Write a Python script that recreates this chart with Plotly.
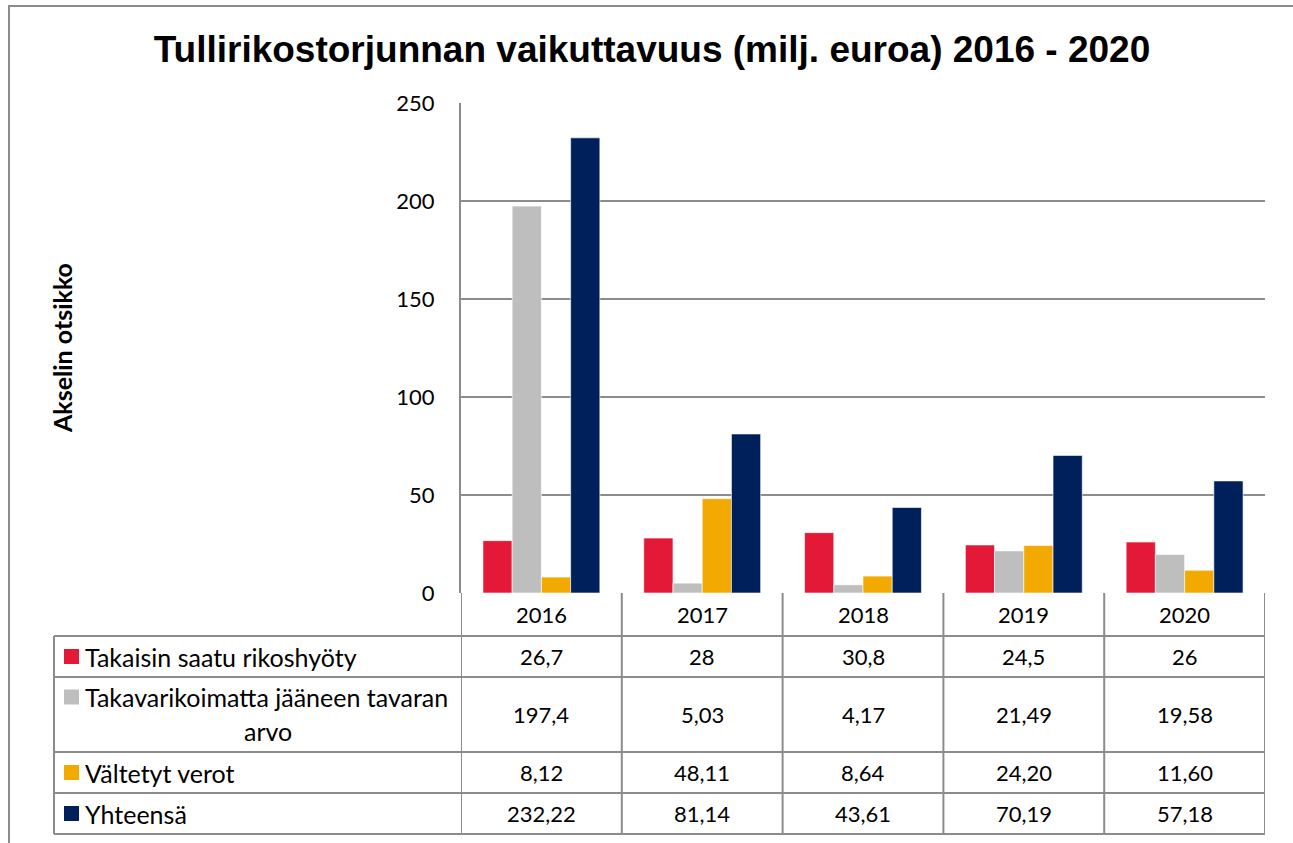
import plotly.graph_objects as go

# ---------------- data ----------------
years = ["2016", "2017", "2018", "2019", "2020"]
series_names = [
    "Takaisin saatu rikoshyöty",
    "Takavarikoimatta jääneen tavaran arvo",
    "Vältetyt verot",
    "Yhteensä",
]
labels_rikoshyoty = ["26,7", "28", "30,8", "24,5", "26"]
labels_tavara = ["197,4", "5,03", "4,17", "21,49", "19,58"]
labels_verot = ["8,12", "48,11", "8,64", "24,20", "11,60"]
labels_yhteensa = ["232,22", "81,14", "43,61", "70,19", "57,18"]
series_labels = [labels_rikoshyoty, labels_tavara, labels_verot, labels_yhteensa]
series_values = [[float(s.replace(",", ".")) for s in lab] for lab in series_labels]
colors = ["#E31937", "#BEBEBE", "#F2A900", "#00205B"]
y_ticks = [0, 50, 100, 150, 200, 250]

title_text = "Tullirikostorjunnan vaikuttavuus (milj. euroa) 2016 - 2020"
y_title = "Akselin otsikko"

# ---------------- layout helpers ----------------
W, H = 1293, 843
def PX(x):
    return x / W
def PY(y):
    return 1 - y / H

plot_left, plot_right, plot_top, plot_bottom = 461, 1265, 103, 593
row_lines = [636, 677, 752, 793, 834]   # bottoms of header, rows 1-4
table_left = 54
grid_col = "#8C8C8C"
body_font = "Lato, Carlito, Calibri, sans-serif"
num_size = 22
lab_size = 25

xs = list(range(len(years)))

fig = go.Figure()
for name, vals, col in zip(series_names, series_values, colors):
    fig.add_trace(go.Bar(
        x=xs, y=vals, name=name,
        marker=dict(color=col, line=dict(color="white", width=0.6)),
        hoverinfo="y+name",
    ))

shapes = []
annotations = []

# outer chart border
shapes.append(dict(type="rect", xref="paper", yref="paper",
                   x0=PX(9), x1=PX(1320), y0=PY(6), y1=PY(870),
                   line=dict(color="#8C8C8C", width=2)))

# table vertical lines (category boundaries)
for i in range(len(years) + 1):
    shapes.append(dict(type="line", xref="x", yref="paper",
                       x0=i - 0.5, x1=i - 0.5, y0=PY(plot_bottom), y1=PY(row_lines[-1]),
                       line=dict(color=grid_col, width=2)))
# table left border
shapes.append(dict(type="line", xref="paper", yref="paper",
                   x0=PX(table_left), x1=PX(table_left), y0=PY(row_lines[0]), y1=PY(row_lines[-1]),
                   line=dict(color=grid_col, width=2)))
# table horizontal lines
for yl in row_lines:
    shapes.append(dict(type="line", xref="paper", yref="paper",
                       x0=PX(table_left), x1=PX(plot_right), y0=PY(yl), y1=PY(yl),
                       line=dict(color=grid_col, width=2)))

# header row: years
hdr_c = (plot_bottom + row_lines[0]) / 2
for i, yr in enumerate(years):
    annotations.append(dict(x=i, y=PY(hdr_c), xref="x", yref="paper", text=yr,
                            xanchor="center", yanchor="middle", showarrow=False,
                            font=dict(family=body_font, size=num_size, color="black")))

# data rows
row_tops = row_lines[:-1]
row_bots = row_lines[1:]
for r, (name, labs, col) in enumerate(zip(series_names, series_labels, colors)):
    cy = (row_tops[r] + row_bots[r]) / 2
    for i, s in enumerate(labs):
        annotations.append(dict(x=i, y=PY(cy), xref="x", yref="paper", text=s,
                                xanchor="center", yanchor="middle", showarrow=False,
                                font=dict(family=body_font, size=num_size, color="black")))
    if r == 1:
        first, last = name.rsplit(" ", 1)
        ly = 697
        annotations.append(dict(x=PX(83), y=PY(ly), xref="paper", yref="paper", text=first,
                                xanchor="left", yanchor="middle", showarrow=False,
                                font=dict(family=body_font, size=lab_size, color="black")))
        annotations.append(dict(x=PX(268), y=PY(731), xref="paper", yref="paper", text=last,
                                xanchor="center", yanchor="middle", showarrow=False,
                                font=dict(family=body_font, size=lab_size, color="black")))
    else:
        ly = cy
        annotations.append(dict(x=PX(83), y=PY(ly), xref="paper", yref="paper", text=name,
                                xanchor="left", yanchor="middle", showarrow=False,
                                font=dict(family=body_font, size=lab_size, color="black")))
    shapes.append(dict(type="rect", xref="paper", yref="paper",
                       x0=PX(64), x1=PX(79), y0=PY(ly - 7.5), y1=PY(ly + 7.5),
                       line=dict(width=0), fillcolor=col))

# y-axis title
annotations.append(dict(x=PX(62), y=PY(348), xref="paper", yref="paper", text="<b>" + y_title + "</b>",
                        textangle=-90, xanchor="center", yanchor="middle", showarrow=False,
                        font=dict(family=body_font, size=25, color="black")))

fig.update_layout(
    width=W, height=H,
    margin=dict(l=0, r=0, t=0, b=0, autoexpand=False),
    paper_bgcolor="white", plot_bgcolor="white",
    showlegend=False,
    barmode="group", bargap=0.273, bargroupgap=0,
    title=dict(text="<b>" + title_text + "</b>", x=PX(652), xanchor="center",
               xref="container", yref="container",
               y=PY(49), yanchor="middle",
               font=dict(family="Liberation Sans, Arial, sans-serif", size=37, color="black")),
    xaxis=dict(domain=[PX(plot_left), PX(plot_right)], range=[-0.5, len(years) - 0.5],
               automargin=False,
               showticklabels=False, showgrid=False, zeroline=False, showline=False, ticks=""),
    yaxis=dict(domain=[PY(plot_bottom), PY(plot_top)], range=[0, 250], tickvals=y_ticks,
               automargin=False,
               showgrid=True, gridcolor=grid_col, gridwidth=1.5,
               zeroline=False, showline=True, linecolor=grid_col, linewidth=2,
               ticks="", ticklabelstandoff=20,
               tickfont=dict(family=body_font, size=num_size, color="black")),
    shapes=shapes,
    annotations=annotations,
)

fig.write_html("out.html",
               config={"displayModeBar": False},
               post_script="document.body.style.margin='0px';document.body.style.overflow='hidden';")
